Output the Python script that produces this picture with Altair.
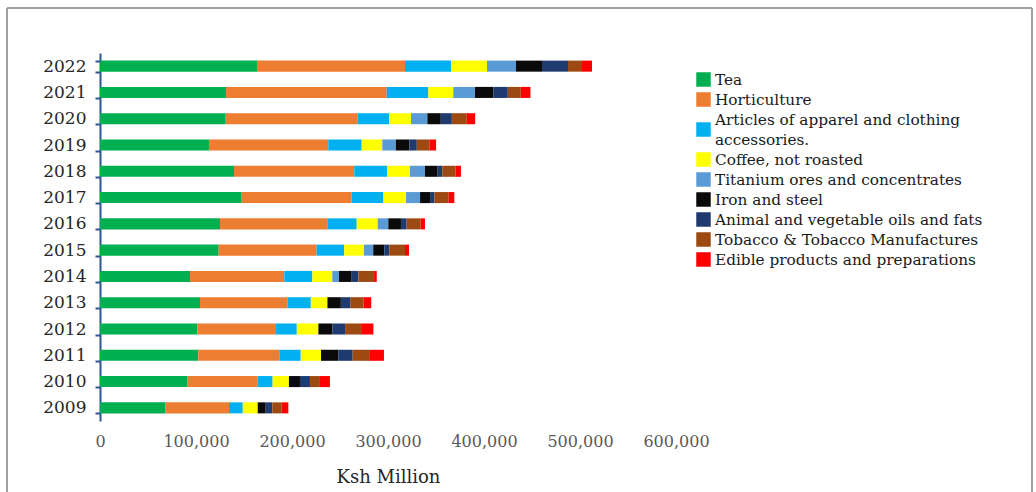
import textwrap

import altair as alt
import pandas as pd

# Export earnings by product, Ksh Million, 2009-2022
years = [str(y) for y in range(2009, 2023)]

products = [
    "Tea",
    "Horticulture",
    "Articles of apparel and clothing accessories.",
    "Coffee, not roasted",
    "Titanium ores and concentrates",
    "Iron and steel",
    "Animal and vegetable oils and fats",
    "Tobacco & Tobacco Manufactures",
    "Edible products and preparations",
]

colors = ["#00B050", "#ED7D31", "#00B0F0", "#FFFF00", "#5B9BD5",
          "#0A0A0A", "#1F3A6E", "#9C4A12", "#FF0000"]

tea = [68400, 91300, 102400, 101400, 104200, 93800, 123600, 125000, 147600,
       139600, 113500, 131000, 131300, 163500]
horticulture = [66000, 72900, 84400, 82000, 91000, 98200, 102000, 111800,
                114600, 125300, 124300, 137500, 167400, 154200]
apparel = [14300, 15600, 22300, 21600, 24400, 29200, 28800, 30600, 33000,
           34400, 34800, 32600, 43300, 47900]
coffee = [15600, 17000, 21100, 22500, 17300, 20800, 20500, 21900, 23600,
          23600, 21500, 22900, 26000, 37500]
titanium = [0, 0, 0, 0, 0, 7000, 9700, 11000, 14600, 15600, 14000, 17000,
            22600, 30200]
iron_steel = [8300, 11500, 18000, 14600, 14000, 13200, 11500, 13200, 10400,
              13200, 14200, 14000, 19100, 27100]
oils_fats = [6900, 10400, 15000, 13200, 9700, 6900, 5200, 5900, 4500, 4800,
             7700, 11500, 15100, 27100]
tobacco = [9800, 10400, 18000, 16700, 13900, 16400, 16400, 14600, 14600,
           14000, 13100, 15600, 13500, 14600]
edible = [6900, 10400, 14600, 12800, 8000, 2800, 4200, 4500, 6200, 5500,
          7000, 8700, 10100, 10400]

series = [tea, horticulture, apparel, coffee, titanium, iron_steel,
          oils_fats, tobacco, edible]

x_ticks = [0, 100000, 200000, 300000, 400000, 500000, 600000]

rows = []
for idx, (name, vals) in enumerate(zip(products, series)):
    for year, v in zip(years, vals):
        rows.append({"year": year, "product": name, "order": idx, "value": v})
df = pd.DataFrame(rows)

# Legend entries: long names wrap onto a second line, swatch centred on them
swatch_rows, label_rows = [], []
slot = 0
for name in products:
    lines = textwrap.wrap(name, 34)
    swatch_rows.append({"product": name, "slot": slot + (len(lines) - 1) / 2})
    for line in lines:
        label_rows.append({"text": line, "slot": slot})
        slot += 1
swatch_df = pd.DataFrame(swatch_rows)
label_df = pd.DataFrame(label_rows)

FONT = "DejaVu Serif"
AXIS_BLUE = "#2F5597"
color_scale = alt.Scale(domain=products, range=colors)

bars = alt.Chart(df).mark_bar().encode(
    y=alt.Y(
        "year:N",
        sort="descending",
        title=None,
        scale=alt.Scale(paddingInner=0.58, paddingOuter=0.29),
        axis=alt.Axis(
            labelFont=FONT, labelFontSize=17, labelColor="#262626",
            labelPadding=9, domainColor=AXIS_BLUE, domainWidth=2,
            tickColor=AXIS_BLUE, tickWidth=2, tickSize=5, tickBand="extent",
            grid=False,
        ),
    ),
    x=alt.X(
        "value:Q",
        stack="zero",
        scale=alt.Scale(domain=[0, 600000], nice=False),
        axis=alt.Axis(
            values=x_ticks, format=",d", ticks=False, domain=False, grid=False,
            labelOverlap=False, labelFlush=False,
            labelFont=FONT, labelFontSize=16, labelColor="#595959",
            labelPadding=12, title="Ksh Million", titleFont=FONT,
            titleFontSize=18, titleFontWeight="normal", titleColor="#262626",
            titlePadding=19,
        ),
    ),
    color=alt.Color("product:N", scale=color_scale, legend=None),
    order=alt.Order("order:Q", sort="ascending"),
)

# Legend drawn as its own layer, one slot per text line
legend_y = alt.Scale(domain=[0, 9], range=[26.5, 206.5])

swatches = alt.Chart(swatch_df).mark_square(size=210, opacity=1).encode(
    x=alt.value(603.5),
    y=alt.Y("slot:Q", scale=legend_y, axis=None),
    color=alt.Color("product:N", scale=color_scale, legend=None),
)

labels = alt.Chart(label_df).mark_text(
    align="left", baseline="middle", font=FONT, fontSize=15.3, color="#1A1A1A"
).encode(
    x=alt.value(615),
    y=alt.Y("slot:Q", scale=legend_y, axis=None),
    text="text:N",
)

# Outer frame around the figure
frame_src = alt.Data(values=[{}])
frame_color = "#A0A0A0"
frame_left = alt.Chart(frame_src).mark_rule(color=frame_color, strokeWidth=2).encode(
    x=alt.value(-93), y=alt.value(-45), y2=alt.value(445))
frame_top = alt.Chart(frame_src).mark_rule(color=frame_color, strokeWidth=2).encode(
    x=alt.value(-93), x2=alt.value(932), y=alt.value(-45))
frame_right = alt.Chart(frame_src).mark_rule(color=frame_color, strokeWidth=2).encode(
    x=alt.value(932), y=alt.value(-45), y2=alt.value(445))

chart = alt.layer(
    bars, swatches, labels, frame_left, frame_top, frame_right
).resolve_scale(
    y="independent",
).properties(
    width=576,
    height=368,
    autosize=alt.AutoSizeParams(type="none"),
    padding={"left": 100, "top": 53, "right": 360, "bottom": 71},
    background="white",
).configure_view(
    strokeOpacity=0,
)

chart.save("out.html", embed_options={"renderer": "svg", "actions": False})
